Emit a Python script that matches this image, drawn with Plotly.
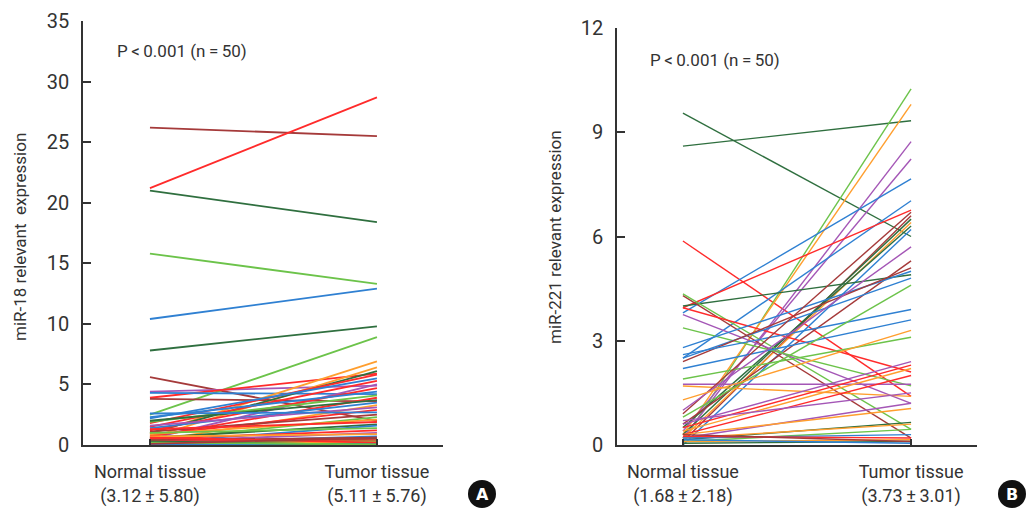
import plotly.graph_objects as go

# ---------------- data ----------------
categories = ["Normal tissue", "Tumor tissue"]
left_tick_text = ["Normal tissue<br>(3.12\u2009±\u20095.80)", "Tumor tissue<br>(5.11\u2009±\u20095.76)"]
right_tick_text = ["Normal tissue<br>(1.68\u2009±\u20092.18)", "Tumor tissue<br>(3.73\u2009±\u20093.01)"]

mir18_normal = [26.2, 21.2, 21.0, 15.8, 10.4, 7.8, 5.6, 2.5, 4.4, 3.9,
                3.8, 4.3, 0.9, 0.6, 1.0, 1.8, 2.2, 1.5, 0.5, 1.2,
                2.3, 1.9, 0.7, 2.0, 1.4, 0.3, 1.6, 0.8, 2.6, 1.1,
                0.4, 0.9, 1.3, 0.6, 0.2, 1.0, 0.5, 0.3, 0.7, 0.2,
                0.4, 0.1, 0.3, 0.2, 0.1, 0.05, 0.3, 0.6, 0.2, 0.1]
mir18_tumor = [25.5, 28.7, 18.4, 13.3, 12.9, 9.8, 2.0, 8.9, 4.9, 5.9,
               3.6, 4.2, 6.9, 6.4, 6.1, 5.8, 5.5, 5.3, 5.0, 4.7,
               4.4, 4.1, 3.9, 3.7, 3.5, 3.3, 3.1, 2.9, 2.7, 2.5,
               2.3, 2.1, 1.9, 1.7, 1.6, 1.4, 1.2, 1.0, 0.9, 0.7,
               0.6, 0.5, 0.4, 0.3, 0.2, 0.1, 0.0, 0.2, 0.05, 0.6]
mir18_colors = ["brown", "red", "dkgreen", "ltgreen", "blue", "dkgreen", "brown", "ltgreen", "purple", "red",
                "brown", "blue", "orange", "orange", "dkgreen", "red", "blue", "red", "purple", "red",
                "blue", "ltgreen", "red", "dkgreen", "blue", "orange", "purple", "red", "blue", "brown",
                "ltgreen", "orange", "red", "dkgreen", "blue", "ltgreen", "red", "purple", "orange", "blue",
                "brown", "dkgreen", "red", "ltgreen", "orange", "blue", "dkgreen", "red", "ltgreen", "brown"]

mir221_normal = [9.55, 8.6, 5.87, 0.1, 0.3, 0.2, 0.4, 3.8, 2.5, 3.95,
                 0.1, 0.3, 0.2, 0.5, 0.0, 0.6, 4.0, 4.3, 4.35, 3.95,
                 3.75, 3.37, 2.8, 2.5, 2.4, 2.6, 2.2, 1.9, 1.75, 1.7,
                 0.9, 0.6, 0.5, 0.4, 0.3, 0.7, 0.2, 0.3, 0.15, 0.2,
                 0.1, 0.2, 0.25, 0.1, 0.05, 0.3, 0.15, 1.0, 0.8, 1.3]
mir221_tumor = [6.0, 9.33, 1.4, 10.25, 9.8, 8.73, 8.23, 7.66, 7.03, 6.76,
                6.6, 6.5, 6.4, 6.3, 6.2, 5.3, 4.9, 0.2, 0.45, 2.1,
                1.2, 1.7, 5.0, 4.8, 5.1, 3.9, 3.6, 3.1, 1.75, 1.4,
                6.7, 2.4, 2.3, 2.2, 2.0, 1.5, 1.2, 1.05, 0.65, 0.6,
                0.45, 0.3, 0.2, 0.15, 0.1, 0.1, 0.05, 5.7, 4.6, 3.3]
mir221_colors = ["dkgreen", "dkgreen", "red", "ltgreen", "orange", "purple", "purple", "blue", "blue", "red",
                 "brown", "dkgreen", "orange", "dkgreen", "blue", "brown", "dkgreen", "brown", "ltgreen", "red",
                 "purple", "ltgreen", "blue", "blue", "brown", "blue", "blue", "ltgreen", "purple", "orange",
                 "brown", "purple", "red", "orange", "red", "purple", "purple", "orange", "dkgreen", "orange",
                 "ltgreen", "blue", "red", "orange", "dkgreen", "brown", "blue", "purple", "ltgreen", "orange"]

left_yticks = [0, 5, 10, 15, 20, 25, 30, 35]
right_yticks = [0, 3, 6, 9, 12]

palette = {
    "red": "#ff2b2b", "brown": "#a53a3a", "ltgreen": "#6cc34a", "dkgreen": "#2f6f3f",
    "blue": "#2f80d2", "purple": "#a456b6", "orange": "#ff9e2e",
}

# ---------------- figure ----------------
W, H = 1026, 511
TXT = "#333333"
FONT = "Roboto"
xpos = [0, 1]

fig = go.Figure()
for n, t, c in zip(mir18_normal, mir18_tumor, mir18_colors):
    fig.add_trace(go.Scatter(x=xpos, y=[n, t], mode="lines", xaxis="x", yaxis="y",
                             line=dict(color=palette[c], width=1.8), showlegend=False, hoverinfo="y"))
for n, t, c in zip(mir221_normal, mir221_tumor, mir221_colors):
    fig.add_trace(go.Scatter(x=xpos, y=[n, t], mode="lines", xaxis="x2", yaxis="y2",
                             line=dict(color=palette[c], width=1.4), showlegend=False, hoverinfo="y"))

def px_x(p):
    return p / W

def px_y(p):
    return (H - p) / H

axis_common = dict(showline=True, linecolor=TXT, linewidth=1.5, showgrid=False, zeroline=False,
                   ticks="inside", tickcolor=TXT, tickwidth=1.5, mirror=False, automargin=False)
xfont = dict(family=FONT, size=18, color=TXT)
yfont = dict(family=FONT, size=20, color=TXT)

fig.update_layout(
    template="none",
    width=W, height=H, margin=dict(l=0, r=0, t=0, b=0, pad=0), autosize=False,
    paper_bgcolor="white", plot_bgcolor="white",
    xaxis=dict(domain=[px_x(83), px_x(443)], range=[-0.295, 1.291], anchor="y", tickfont=xfont,
               tickvals=xpos, ticktext=left_tick_text, ticklen=6, ticklabelstandoff=10, **axis_common),
    yaxis=dict(domain=[px_y(445), px_y(21)], range=[0, 35], anchor="x", tickfont=yfont,
               tickvals=left_yticks, ticklen=8, ticklabelstandoff=8, **axis_common),
    xaxis2=dict(domain=[px_x(617), px_x(977)], range=[-0.289, 1.289], anchor="y2", tickfont=xfont,
                tickvals=xpos, ticktext=right_tick_text, ticklen=6, ticklabelstandoff=10, **axis_common),
    yaxis2=dict(domain=[px_y(445), px_y(28)], range=[0, 12], anchor="x2", tickfont=yfont,
                tickvals=right_yticks, ticklen=8, ticklabelstandoff=8, **axis_common),
)

annots = [
    dict(text="miR-18 relevant  expression", x=px_x(20), y=px_y(237), textangle=-90,
         font=dict(family=FONT, size=17, color=TXT)),
    dict(text="miR-221 relevant expression", x=px_x(555), y=px_y(237), textangle=-90,
         font=dict(family=FONT, size=17, color=TXT)),
    dict(text="P\u2009<\u20090.001 (n\u2009=\u200950)", x=px_x(115), y=px_y(51), xanchor="left",
         font=dict(family=FONT, size=17, color=TXT)),
    dict(text="P\u2009<\u20090.001 (n\u2009=\u200950)", x=px_x(648), y=px_y(60), xanchor="left",
         font=dict(family=FONT, size=17, color=TXT)),
    dict(text="<b>A</b>", x=px_x(482), y=px_y(494), font=dict(family="DejaVu Sans", size=16, color="white")),
    dict(text="<b>B</b>", x=px_x(1012), y=px_y(494), font=dict(family="DejaVu Sans", size=16, color="white")),
]
for a in annots:
    a.update(xref="paper", yref="paper", showarrow=False)
    a.setdefault("xanchor", "center")
    a.setdefault("yanchor", "middle")
fig.update_layout(annotations=annots)

shapes = []
for cx, cy in [(482, 494), (1012, 494)]:
    r = 14
    shapes.append(dict(type="circle", xref="paper", yref="paper",
                       x0=px_x(cx - r), x1=px_x(cx + r), y0=px_y(cy + r), y1=px_y(cy - r),
                       fillcolor="#111111", line=dict(width=0)))
fig.update_layout(shapes=shapes)

fig.write_html("out.html")
